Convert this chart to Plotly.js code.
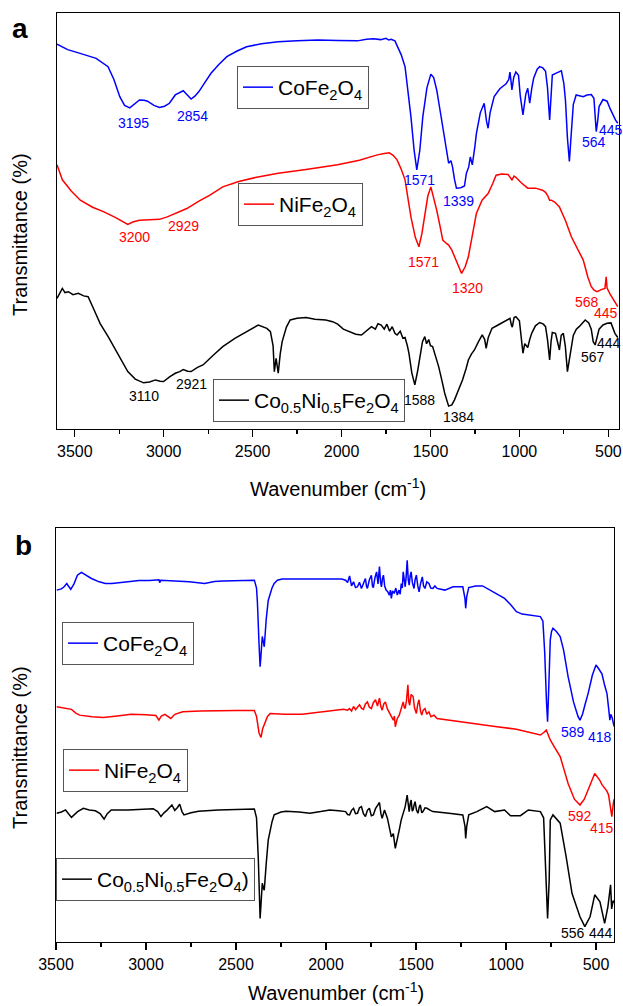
<!DOCTYPE html>
<html><head><meta charset="utf-8">
<script src="https://cdn.plot.ly/plotly-3.0.1.min.js"></script>
<style>html,body{margin:0;padding:0;background:#fff}#chart{width:623px;height:1006px}</style>
</head><body><div id="chart"></div>
<script>
// ---------- Panel a ----------
const aCoX = [3600,3540,3470,3380,3313,3280,3247,3220,3191,3165,3136,3110,3091,3055,3024,2995,2968,2935,2910,2890,2870,2846,2825,2802,2770,2734,2690,2645,2590,2534,2450,2356,2250,2133,2020,1910,1860,1821,1780,1750,1735,1721,1700,1688,1665,1643,1625,1610,1592,1577,1560,1543,1520,1498,1482,1465,1440,1420,1405,1398,1385,1376,1365,1354,1330,1309,1298,1285,1276,1265,1250,1242,1220,1198,1185,1176,1165,1142,1110,1075,1060,1053,1047,1042,1032,1020,1005,995,980,970,964,953,942,930,920,900,886,868,853,842,830,822,815,790,764,750,741,730,719,710,697,681,660,641,620,596,581,572,568,560,552,530,507,490,474,460,447];
const aCoY = [92.5,91.2,90.3,89.1,87.1,84.0,79.9,77.8,77.2,78.2,79.1,79.0,78.8,77.8,77.3,77.6,78.3,80.3,80.8,81.3,80.4,79.3,80.0,81.1,83.2,85.5,87.6,89.5,90.8,91.9,92.6,93.1,93.3,93.5,93.4,93.3,93.7,93.8,93.6,93.9,93.5,93.7,93.3,92.3,90.0,87.1,81.0,75.1,67.0,62.3,67.0,75.1,82.0,85.3,84.5,81.5,75.0,69.5,65.5,63.9,64.5,63.0,60.0,57.9,58.0,58.4,61.5,63.0,65.4,63.5,68.0,71.0,76.0,78.3,74.0,72.3,76.0,79.9,81.8,83.0,84.0,85.8,83.5,81.5,84.5,85.8,85.0,80.0,75.5,78.0,80.5,81.9,78.3,82.0,84.3,86.5,87.1,86.8,86.0,82.0,74.3,80.0,85.1,85.6,86.1,83.0,79.0,70.0,64.3,70.0,78.0,80.3,80.0,79.9,80.3,80.4,79.5,75.0,71.5,74.0,77.5,79.2,78.8,77.0,75.5,74.3,73.5];

const aNiX = [3600,3570,3520,3469,3400,3336,3270,3202,3170,3136,3080,3024,2980,2935,2870,2802,2740,2668,2578,2470,2356,2200,2022,1900,1799,1760,1732,1710,1688,1665,1643,1625,1610,1585,1565,1548,1532,1515,1498,1480,1465,1445,1431,1410,1398,1380,1365,1345,1325,1305,1287,1265,1242,1210,1176,1150,1131,1100,1064,1042,1030,1020,990,953,909,870,853,840,830,820,800,775,740,708,675,641,615,596,580,563,540,519,512,507,490,474,460,447];
const aNiY = [63.5,59.9,57.2,55.0,53.3,52.2,50.8,49.2,49.8,50.2,50.3,50.4,51.0,51.8,53.0,54.8,56.2,58.2,59.5,60.6,61.5,62.4,63.5,64.6,65.9,66.2,66.4,65.8,64.7,62.5,59.9,55.0,51.0,46.0,43.8,47.0,51.8,56.0,58.2,55.5,52.6,48.5,45.4,44.6,44.2,43.0,41.4,39.2,37.4,39.0,41.4,46.5,51.8,55.0,56.6,59.0,61.0,61.3,61.2,59.9,60.8,60.5,59.2,57.9,57.9,57.4,56.9,56.0,55.0,55.0,54.5,53.4,50.0,46.2,43.5,40.6,36.5,34.2,33.4,33.0,33.5,33.8,36.6,33.9,32.4,31.4,30.5,29.4];

const aMixX = [3600,3585,3570,3555,3536,3510,3480,3450,3425,3390,3358,3310,3269,3235,3202,3160,3113,3080,3046,3020,3001,2965,2935,2910,2890,2865,2846,2810,2779,2720,2668,2600,2534,2468,2420,2400,2385,2378,2368,2362,2356,2345,2334,2310,2289,2250,2200,2150,2089,2050,2022,1990,1955,1920,1888,1860,1832,1810,1795,1777,1760,1745,1730,1715,1700,1688,1670,1655,1643,1630,1621,1605,1588,1572,1555,1545,1532,1522,1510,1500,1488,1470,1454,1435,1420,1398,1380,1365,1340,1320,1300,1287,1270,1253,1230,1209,1195,1187,1175,1154,1120,1087,1053,1045,1040,1030,1020,1000,990,980,970,964,953,942,931,910,886,865,853,842,830,822,815,797,785,775,765,753,742,730,718,697,680,664,630,610,596,585,574,563,552,530,507,485,470,463,447];
const aMixY = [31.4,32.5,33.8,32.8,33.0,32.3,32.6,32.0,31.8,28.5,25.4,22.0,19.0,16.2,13.8,12.0,11.1,11.3,11.8,11.5,11.4,12.6,13.4,13.8,14.3,13.9,13.8,14.8,15.4,17.8,19.8,21.8,23.4,25.0,24.2,23.4,20.0,13.8,17.0,15.5,13.4,18.0,21.0,24.5,26.2,26.6,26.8,26.4,26.2,25.8,25.2,24.0,23.4,22.8,22.6,23.6,24.6,24.0,25.3,25.0,24.0,25.2,23.5,24.6,23.0,22.6,23.5,21.8,22.0,20.0,18.2,13.5,10.6,14.0,18.5,21.0,22.2,20.5,21.5,20.0,19.8,17.5,15.0,11.5,8.6,5.5,5.8,7.0,9.5,11.8,14.5,16.6,18.0,19.0,21.0,22.6,21.5,19.4,22.0,24.2,25.0,25.8,26.6,25.0,24.5,26.8,27.0,26.0,22.0,18.2,20.5,20.2,19.6,21.5,23.0,24.8,25.6,25.2,24.6,21.5,16.6,21.0,23.2,23.0,21.0,19.0,22.5,23.0,20.0,13.8,17.0,22.5,24.0,24.6,26.2,25.5,24.0,21.0,20.2,22.5,24.0,25.0,25.4,25.5,24.0,23.0,22.0];

// peak labels, panel a (text, wavenumber, value)
const aCoPeaks   = ['3195','2854','1571','1339','564','445'];
const aCoPeakX   = [3169,2839,1560,1342,580,484];
const aCoPeakY   = [73.6,75.2,59.9,54.9,69.0,71.8];
const aNiPeaks   = ['3200','2929','1571','1320','568','445'];
const aNiPeakX   = [3164,2889,1538,1292,619,512];
const aNiPeakY   = [46.2,48.9,40.2,34.0,30.6,27.8];
const aMixPeaks  = ['3110','2921','1588','1384','567','444'];
const aMixPeakX  = [3113,2844,1561,1342,585,496];
const aMixPeakY  = [7.9,10.8,7.0,2.8,17.2,20.6];

// ---------- Panel b ----------
const bCoX = [3496,3470,3455,3440,3428,3418,3400,3381,3359,3330,3303,3260,3226,3190,3149,3100,3039,2980,2928,2924,2918,2870,2818,2760,2674,2620,2574,2500,2440,2398,2386,2381,2372,2366,2360,2354,2348,2343,2332,2321,2300,2288,2270,2244,2150,2046,1960,1913,
  1891,1880,1869,1858,1847,1836,1825,1814,1803,1792,1781,1775,1770,1759,1748,1742,1737,1728,1719,1711,1703,1697,1692,1686,1681,1674,1666,1657,1648,1642,1637,1630,1621,1612,1604,1595,1588,1582,1576,1571,1565,1560,1555,1549,1543,1538,1532,1527,1520,1511,1505,1498,1490,1483,1475,1465,1458,1450,1440,1428,1418,1406,1395,1383,
  1340,1294,1240,1228,1224,1218,1207,1170,1130,1100,1074,1040,1008,975,942,910,876,840,809,795,785,775,769,762,754,747,739,720,699,680,655,625,600,589,575,560,544,520,500,485,467,452,439,430,423,418,410,402,398];
const bCoY = [85.0,85.3,85.8,86.6,85.8,85.2,86.5,88.6,89.3,88.5,87.8,87.0,86.6,86.6,86.7,87.0,87.3,87.3,87.5,86.8,87.4,87.3,87.2,87.0,86.6,87.1,87.2,87.3,87.4,87.4,85.5,82.0,72.0,66.5,70.0,73.8,72.5,71.3,78.0,82.5,85.5,86.6,87.4,87.7,87.7,87.7,87.6,87.7,
  87.4,86.8,88.4,86.0,87.0,85.6,85.8,86.9,85.4,86.5,87.8,85.9,85.4,87.5,88.6,86.0,85.6,88.0,89.4,86.5,90.7,87.0,85.8,87.9,88.6,86.0,85.0,84.6,83.8,85.0,83.0,84.8,84.2,85.5,83.8,85.0,84.0,86.6,85.5,89.4,86.5,85.8,88.0,92.2,87.5,86.2,88.5,89.4,86.8,85.4,87.5,88.6,86.0,84.6,86.5,88.2,86.0,85.4,87.0,86.6,85.5,85.4,86.0,85.4,
  85.0,85.8,85.8,83.0,80.6,83.5,85.6,86.0,86.0,85.3,84.5,83.8,83.0,81.5,79.8,79.2,79.0,78.8,78.6,77.5,70.0,58.0,53.2,62.0,73.0,75.0,75.8,75.0,73.8,70.5,64.1,58.0,54.5,53.6,55.0,57.5,60.0,64.5,66.9,66.0,64.8,62.0,60.0,56.5,53.6,55.0,54.2,52.5,52.0];

const bNiX = [3496,3470,3440,3414,3390,3369,3300,3237,3160,3083,3000,2945,2928,2915,2895,2875,2862,2840,2796,2700,2597,2500,2398,2386,2372,2361,2352,2340,2325,2310,2230,2133,2050,1957,
  1935,1902,1880,1869,1858,1847,1836,1825,1814,1803,1792,1781,1770,1759,1748,1737,1725,1714,1703,1695,1688,1679,1670,1659,1648,1637,1626,1620,1615,1604,1593,1582,1571,1565,1560,1553,1545,1540,1535,1527,1516,1508,1498,1490,1483,1475,1468,1460,1450,1440,1428,1417,1400,1383,
  1317,1240,1162,1050,942,870,809,790,776,765,754,730,699,680,655,620,589,565,544,520,507,495,478,467,457,440,430,420,412,405,400];
const bNiY = [56.8,56.6,56.4,56.2,55.3,54.8,54.4,54.2,54.6,55.0,54.9,54.7,53.6,54.6,55.0,54.3,54.0,55.0,55.6,55.8,55.9,55.9,55.9,54.5,50.5,49.4,51.5,53.0,54.5,55.2,55.0,55.0,55.4,55.9,
  55.9,56.2,56.0,56.4,55.8,56.9,56.1,56.8,57.3,56.5,56.2,57.5,58.0,56.7,56.4,57.8,58.5,57.0,58.9,56.8,56.0,57.5,58.0,56.3,55.2,54.5,53.6,54.6,52.0,54.0,54.8,56.5,58.0,56.6,56.4,58.3,62.1,58.0,57.2,59.8,59.3,56.5,55.2,57.5,58.5,55.8,54.8,56.0,56.4,55.0,55.6,54.4,54.8,54.0,
  53.6,53.0,52.5,52.0,51.4,50.6,50.0,50.6,51.2,50.0,48.8,47.0,44.8,42.0,38.3,34.5,33.1,34.5,36.7,39.5,40.7,40.0,39.0,38.0,37.5,36.5,35.5,33.0,30.3,33.0,34.5];

const bMixX = [3496,3470,3447,3430,3414,3380,3348,3315,3281,3255,3233,3215,3193,3100,3017,2960,2935,2917,2900,2884,2856,2840,2825,2813,2800,2789,2750,2708,2600,2500,2398,2386,2376,2366,2360,2354,2348,2343,2332,2321,2300,2288,2250,2222,2150,2089,2030,1979,1930,
  1891,1880,1869,1858,1847,1836,1825,1814,1803,1792,1781,1770,1759,1748,1737,1725,1714,1703,1695,1688,1675,1659,1637,1626,1615,1604,1593,1582,1571,1560,1549,1543,1538,1532,1527,1521,1516,1510,1505,1497,1489,1482,1476,1468,1461,1450,1439,1420,1406,
  1317,1240,1228,1224,1218,1207,1162,1107,1063,1008,975,920,876,809,791,780,769,760,754,739,699,666,633,589,562,533,507,478,452,434,425,419,413,405,400];
const bMixY = [31.1,31.4,31.9,31.0,30.1,31.5,32.3,31.9,31.7,31.0,29.7,31.0,31.9,31.9,32.0,32.2,31.5,30.3,31.2,31.8,33.1,31.8,32.5,33.3,31.5,30.7,31.2,31.6,31.9,32.0,32.1,30.0,20.0,5.7,10.0,14.2,13.0,12.5,19.0,24.6,29.0,30.7,31.4,31.6,31.4,31.1,31.5,31.9,31.7,
  31.5,30.8,30.7,31.8,32.3,31.0,31.1,32.4,32.7,31.0,30.3,31.8,32.3,30.5,30.7,32.2,33.1,33.7,31.0,29.9,31.9,29.9,25.4,26.2,22.6,24.6,27.1,29.5,31.1,32.7,35.5,32.0,31.5,33.5,34.3,31.6,31.9,33.2,33.9,31.8,31.1,32.6,33.1,31.2,31.5,32.4,32.3,31.8,31.5,
  31.1,30.7,28.0,25.0,28.0,30.7,31.5,32.7,31.5,31.9,30.5,30.5,31.9,31.5,30.0,18.0,5.7,15.0,29.5,30.7,28.7,20.6,11.7,6.1,3.7,6.1,11.4,9.7,4.5,8.5,12.0,13.8,8.0,10.0,9.5];

const bCoPeaks  = ['589','418'];
const bCoPeakX  = [628,478];
const bCoPeakY  = [50.8,49.6];
const bNiPeaks  = ['592','415'];
const bNiPeakX  = [589,467];
const bNiPeakY  = [30.5,27.6];
const bMixPeaks = ['556','444'];
const bMixPeakX = [628,474];
const bMixPeakY = [2.2,2.2];

const xTickVals = [3500,3000,2500,2000,1500,1000,500];
const seriesNames = ['CoFe<sub>2</sub>O<sub>4</sub>','NiFe<sub>2</sub>O<sub>4</sub>','Co<sub>0.5</sub>Ni<sub>0.5</sub>Fe<sub>2</sub>O<sub>4</sub>'];
const seriesNamesB = ['CoFe<sub>2</sub>O<sub>4</sub>','NiFe<sub>2</sub>O<sub>4</sub>','Co<sub>0.5</sub>Ni<sub>0.5</sub>Fe<sub>2</sub>O<sub>4</sub>)'];

const BLUE = '#0000ff', RED = '#ff0000', BLACK = '#000000';
const FONT = 'Arial, "Liberation Sans", Helvetica, sans-serif';
const W = 623, H = 1006;
const px = v => v / W, py = v => 1 - v / H;

function tr(x, y, name, color, xa, ya, leg) {
  return {x: x, y: y, name: name, type: 'scatter', mode: 'lines',
    line: {color: color, width: 1.5}, xaxis: xa, yaxis: ya, legend: leg, showlegend: true};
}
const traces = [
  tr(aCoX, aCoY, seriesNames[0], BLUE, 'x', 'y', 'legend'),
  tr(aNiX, aNiY, seriesNames[1], RED, 'x', 'y', 'legend2'),
  tr(aMixX, aMixY, seriesNames[2], BLACK, 'x', 'y', 'legend3'),
  tr(bCoX, bCoY, seriesNamesB[0], BLUE, 'x2', 'y2', 'legend4'),
  tr(bNiX, bNiY, seriesNamesB[1], RED, 'x2', 'y2', 'legend5'),
  tr(bMixX, bMixY, seriesNamesB[2], BLACK, 'x2', 'y2', 'legend6')
];

const annotations = [];
function peaks(texts, xs, ys, color, xr, yr) {
  texts.forEach((t, i) => annotations.push({text: t, x: xs[i], y: ys[i], xref: xr, yref: yr,
    showarrow: false, font: {family: FONT, size: 14, color: color}, xanchor: 'center', yanchor: 'middle'}));
}
peaks(aCoPeaks, aCoPeakX, aCoPeakY, BLUE, 'x', 'y');
peaks(aNiPeaks, aNiPeakX, aNiPeakY, RED, 'x', 'y');
peaks(aMixPeaks, aMixPeakX, aMixPeakY, BLACK, 'x', 'y');
peaks(bCoPeaks, bCoPeakX, bCoPeakY, BLUE, 'x2', 'y2');
peaks(bNiPeaks, bNiPeakX, bNiPeakY, RED, 'x2', 'y2');
peaks(bMixPeaks, bMixPeakX, bMixPeakY, BLACK, 'x2', 'y2');

function txt(t, x, y, size, opts) {
  annotations.push(Object.assign({text: t, x: px(x), y: py(y), xref: 'paper', yref: 'paper', showarrow: false,
    xanchor: 'center', yanchor: 'middle', font: {family: FONT, size: size, color: '#000'}}, opts || {}));
}
txt('<b>a</b>', 20, 28, 28);
txt('<b>b</b>', 23, 545, 28);
txt('Wavenumber (cm<sup>-1</sup>)', 338, 487, 20);
txt('Wavenumber (cm<sup>-1</sup>)', 336, 991, 20);
txt('Transmittance (%)', 20, 235, 20, {textangle: -90});
txt('Transmittance (%)', 20, 748, 20, {textangle: -90});

function xax(domain, range, anchor) {
  return {domain: domain, range: range, anchor: anchor, showline: true, mirror: true, linecolor: '#000', linewidth: 1.3,
    showgrid: false, zeroline: false, tickmode: 'array', tickvals: xTickVals, ticks: 'outside', ticklen: 7, tickwidth: 1.2,
    tickcolor: '#000', tickfont: {family: FONT, size: 16, color: '#000'},
    minor: {dtick: 250, tick0: 0, ticks: 'outside', ticklen: 4, tickwidth: 1.2, tickcolor: '#000', showgrid: false}};
}
function yax(domain, anchor) {
  return {domain: domain, range: [0, 100], anchor: anchor, showline: true, mirror: true, linecolor: '#000', linewidth: 1.3,
    showgrid: false, zeroline: false, showticklabels: false, ticks: ''};
}
function leg(x, y) {
  return {x: px(x), y: py(y), xanchor: 'left', yanchor: 'top', bgcolor: 'rgba(255,255,255,0)', bordercolor: '#555',
    borderwidth: 1, font: {family: FONT, size: 21, color: '#000'}, itemwidth: 30};
}

const layout = {
  width: W, height: H, margin: {l: 0, r: 0, t: 0, b: 0}, paper_bgcolor: '#fff', plot_bgcolor: '#fff',
  showlegend: true,
  xaxis: xax([px(57), px(619)], [3600, 440], 'y'),
  yaxis: yax([py(429), py(13)], 'x'),
  xaxis2: xax([px(56), px(614)], [3500, 400], 'y2'),
  yaxis2: yax([py(942), py(528)], 'x2'),
  legend: leg(237, 66), legend2: leg(238, 183), legend3: leg(213, 379),
  legend4: leg(62, 622), legend5: leg(63, 749), legend6: leg(56, 858),
  annotations: annotations
};
Plotly.newPlot('chart', traces, layout, {staticPlot: true, displayModeBar: false});
</script></body></html>
